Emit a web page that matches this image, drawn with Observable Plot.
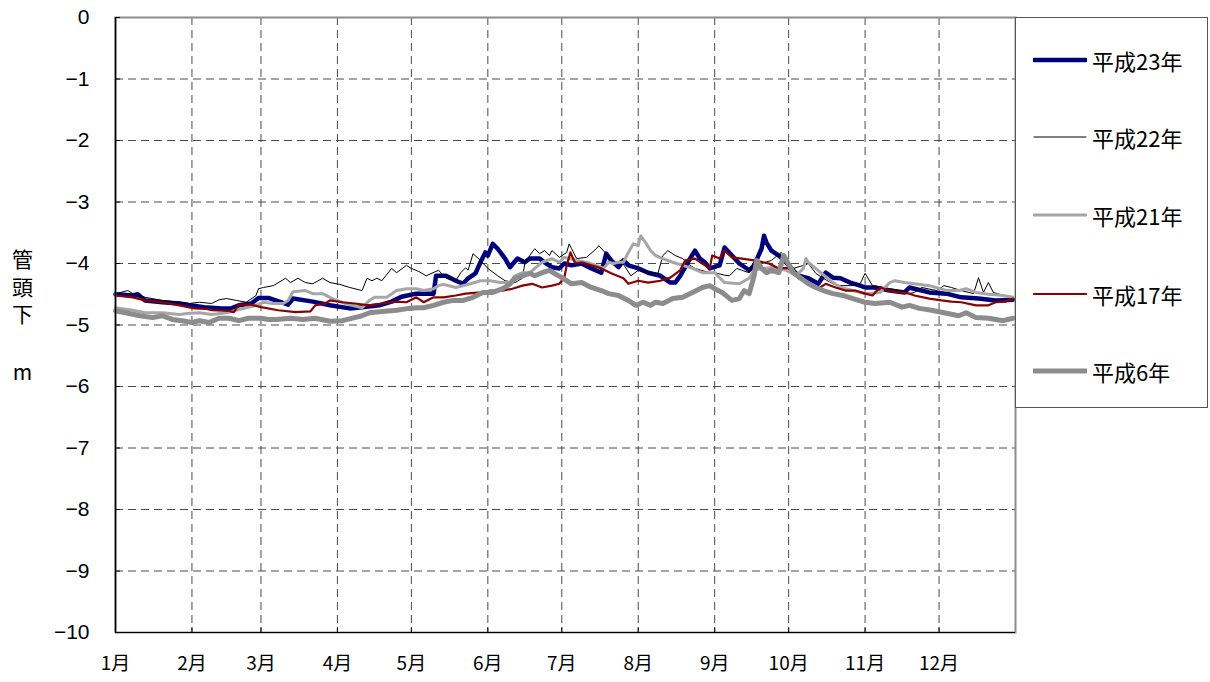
<!DOCTYPE html>
<html><head><meta charset="utf-8">
<script src="https://cdn.jsdelivr.net/npm/d3@7"></script>
<script src="https://cdn.jsdelivr.net/npm/@observablehq/plot@0.6"></script>
<style>
body{margin:0;background:#fff;}
#wrap{position:relative;width:1210px;height:682px;}
#legend{position:absolute;left:1015px;top:17px;width:193px;height:391px;border:1px solid #555;box-sizing:border-box;background:#fff;font-family:"Noto Sans CJK JP",sans-serif;font-size:22px;color:#000;}
.item{position:absolute;left:17px;height:30px;display:flex;align-items:center;}
.item svg{margin-right:5px;}
</style></head><body><div id="wrap"></div>
<script>
// Day-of-year (0 = Jan 1) and depth below pipe head (m)
const h23 = [[0,-4.50],[7,-4.52],[9,-4.50],[12,-4.60],[19,-4.63],[26,-4.65],[30,-4.68],[36,-4.71],[43,-4.73],[47,-4.73],[50,-4.68],[55,-4.65],[58,-4.56],[62,-4.56],[70,-4.67],[72,-4.57],[80,-4.62],[87,-4.68],[95,-4.73],[100,-4.71],[107,-4.68],[112,-4.62],[116,-4.54],[122,-4.49],[126,-4.49],[129,-4.49],[130,-4.20],[134,-4.20],[138,-4.28],[141,-4.33],[143,-4.24],[146,-4.16],[148,-3.98],[150,-3.82],[151,-3.87],[153,-3.68],[155,-3.76],[158,-3.92],[160,-4.06],[163,-3.92],[166,-3.98],[168,-3.92],[172,-3.92],[174,-3.98],[177,-4.06],[180,-4.08],[182,-4.00],[185,-4.03],[189,-4.00],[193,-4.08],[197,-4.15],[199,-3.84],[201,-3.95],[204,-4.06],[206,-3.95],[208,-4.03],[212,-4.08],[216,-4.15],[221,-4.20],[225,-4.31],[227,-4.31],[229,-4.20],[233,-3.92],[235,-3.79],[237,-3.92],[239,-3.98],[241,-4.08],[245,-4.03],[247,-3.74],[250,-3.87],[253,-4.00],[257,-4.11],[259,-4.03],[262,-3.76],[263,-3.55],[264,-3.66],[266,-3.79],[269,-3.87],[272,-3.98],[274,-4.08],[277,-4.20],[281,-4.24],[285,-4.33],[288,-4.15],[291,-4.23],[294,-4.24],[298,-4.31],[302,-4.36],[304,-4.39],[308,-4.39],[314,-4.44],[320,-4.47],[322,-4.39],[324,-4.41],[330,-4.47],[337,-4.49],[343,-4.55],[350,-4.57],[357,-4.60],[364,-4.59]];
const h22 = [[0,-4.50],[3,-4.46],[5,-4.44],[7,-4.49],[12,-4.55],[19,-4.60],[26,-4.63],[30,-4.65],[34,-4.63],[39,-4.65],[42,-4.59],[45,-4.57],[49,-4.60],[53,-4.63],[57,-4.52],[58,-4.41],[60,-4.39],[64,-4.36],[69,-4.24],[71,-4.31],[74,-4.24],[77,-4.31],[80,-4.33],[84,-4.24],[87,-4.31],[91,-4.34],[95,-4.39],[100,-4.44],[102,-4.24],[104,-4.28],[106,-4.24],[108,-4.28],[112,-4.08],[114,-4.15],[118,-4.03],[120,-4.08],[123,-4.13],[126,-4.20],[131,-4.11],[134,-4.24],[138,-4.28],[140,-4.15],[142,-4.07],[143,-4.11],[145,-3.84],[148,-3.95],[151,-4.08],[155,-4.20],[158,-4.28],[162,-4.31],[165,-4.24],[166,-4.00],[168,-3.87],[170,-3.76],[172,-3.84],[174,-3.79],[176,-3.87],[177,-3.79],[180,-3.90],[183,-3.82],[184,-3.68],[185,-3.76],[187,-3.92],[191,-3.90],[195,-3.76],[196,-3.71],[199,-3.84],[202,-4.00],[205,-3.95],[209,-4.20],[212,-4.11],[217,-4.15],[220,-4.16],[222,-3.87],[224,-3.79],[227,-3.87],[230,-3.92],[233,-4.03],[235,-4.08],[241,-4.15],[243,-4.15],[247,-4.19],[249,-4.20],[252,-4.08],[254,-4.11],[257,-4.15],[260,-3.92],[262,-4.00],[266,-3.95],[270,-3.82],[272,-3.92],[275,-4.08],[279,-4.03],[281,-4.00],[284,-4.16],[287,-4.24],[291,-4.33],[294,-4.36],[298,-4.36],[302,-4.33],[304,-4.16],[307,-4.36],[314,-4.41],[318,-4.44],[322,-4.49],[324,-4.47],[327,-4.39],[333,-4.44],[336,-4.36],[339,-4.39],[343,-4.44],[348,-4.49],[350,-4.23],[352,-4.47],[354,-4.31],[356,-4.47],[360,-4.52],[364,-4.55]];
const h21 = [[0,-4.72],[7,-4.76],[12,-4.80],[19,-4.80],[26,-4.83],[30,-4.81],[34,-4.80],[39,-4.83],[45,-4.80],[49,-4.76],[53,-4.72],[57,-4.68],[60,-4.63],[64,-4.65],[68,-4.65],[70,-4.60],[72,-4.46],[77,-4.44],[80,-4.49],[84,-4.49],[88,-4.57],[93,-4.65],[100,-4.72],[103,-4.60],[105,-4.55],[110,-4.55],[114,-4.44],[118,-4.41],[122,-4.41],[125,-4.44],[129,-4.41],[131,-4.36],[133,-4.34],[138,-4.39],[144,-4.33],[148,-4.28],[152,-4.28],[156,-4.31],[160,-4.31],[162,-4.20],[165,-4.15],[168,-4.15],[173,-3.98],[177,-3.92],[180,-3.98],[182,-3.90],[184,-3.92],[187,-3.95],[191,-3.98],[195,-4.03],[198,-4.08],[200,-3.98],[202,-4.00],[204,-3.98],[206,-3.98],[208,-3.82],[210,-3.68],[212,-3.71],[213,-3.55],[215,-3.66],[217,-3.79],[219,-3.87],[222,-3.92],[226,-3.98],[230,-4.03],[234,-4.08],[238,-4.15],[243,-4.15],[247,-4.31],[253,-4.33],[257,-4.24],[259,-4.11],[262,-4.08],[266,-4.07],[269,-4.08],[272,-4.11],[276,-4.20],[279,-4.08],[280,-3.92],[281,-3.98],[286,-4.15],[290,-4.28],[294,-4.39],[299,-4.44],[304,-4.49],[310,-4.47],[314,-4.31],[316,-4.28],[320,-4.31],[324,-4.33],[330,-4.36],[337,-4.44],[342,-4.44],[345,-4.41],[349,-4.47],[354,-4.50],[360,-4.52],[364,-4.55]];
const h17 = [[0,-4.52],[7,-4.55],[12,-4.60],[19,-4.63],[26,-4.68],[32,-4.73],[37,-4.74],[39,-4.76],[46,-4.77],[48,-4.79],[50,-4.67],[55,-4.67],[59,-4.71],[66,-4.76],[73,-4.79],[79,-4.78],[81,-4.68],[85,-4.65],[87,-4.60],[92,-4.63],[97,-4.65],[103,-4.68],[108,-4.65],[114,-4.62],[118,-4.63],[122,-4.55],[125,-4.63],[129,-4.55],[133,-4.55],[138,-4.52],[142,-4.49],[148,-4.47],[152,-4.44],[157,-4.44],[161,-4.41],[165,-4.36],[169,-4.33],[173,-4.39],[177,-4.36],[180,-4.33],[182,-4.23],[183,-4.03],[184.5,-3.82],[186.5,-4.00],[189,-3.98],[193,-4.03],[197,-4.08],[201,-4.16],[206,-4.24],[208,-4.33],[212,-4.28],[216,-4.31],[221,-4.28],[225,-4.23],[229,-4.11],[231,-3.95],[235,-3.92],[238,-4.00],[241,-4.08],[242,-3.87],[245,-3.92],[247,-3.79],[250,-3.90],[254,-3.92],[259,-3.95],[265,-4.00],[269,-4.08],[273,-4.07],[277,-4.24],[281,-4.33],[285,-4.41],[288,-4.33],[292,-4.39],[296,-4.44],[300,-4.44],[304,-4.49],[307,-4.52],[310,-4.39],[314,-4.44],[318,-4.47],[322,-4.49],[324,-4.52],[330,-4.57],[335,-4.60],[339,-4.62],[343,-4.63],[349,-4.68],[354,-4.68],[357,-4.63],[361,-4.62],[364,-4.57]];
const h6 = [[0,-4.77],[4,-4.80],[10,-4.85],[15,-4.88],[19,-4.85],[23,-4.91],[27,-4.93],[31,-4.96],[34,-4.93],[38,-4.96],[42,-4.89],[46,-4.89],[50,-4.93],[54,-4.89],[59,-4.89],[62,-4.91],[65,-4.91],[71,-4.89],[76,-4.91],[81,-4.89],[87,-4.94],[92,-4.93],[97,-4.88],[100,-4.85],[103,-4.80],[108,-4.78],[114,-4.76],[119,-4.73],[122,-4.72],[125,-4.72],[129,-4.68],[133,-4.63],[137,-4.60],[141,-4.60],[145,-4.55],[149,-4.47],[153,-4.47],[157,-4.41],[160,-4.33],[162,-4.24],[165,-4.20],[168,-4.16],[170,-4.20],[173,-4.15],[176,-4.11],[178,-4.16],[181,-4.23],[185,-4.33],[189,-4.31],[193,-4.39],[197,-4.44],[200,-4.49],[204,-4.52],[208,-4.60],[211,-4.68],[214,-4.63],[217,-4.68],[219,-4.63],[222,-4.65],[226,-4.57],[230,-4.55],[234,-4.47],[238,-4.39],[241,-4.36],[243,-4.41],[246,-4.47],[250,-4.60],[253,-4.57],[255,-4.44],[257,-4.49],[259,-4.20],[260,-3.95],[262,-4.08],[264,-4.15],[266,-4.11],[269,-4.15],[271,-3.87],[272.5,-3.98],[275,-4.15],[278,-4.24],[281,-4.33],[284,-4.39],[287,-4.44],[291,-4.49],[295,-4.52],[299,-4.57],[304,-4.63],[308,-4.65],[314,-4.63],[319,-4.71],[322,-4.68],[326,-4.73],[331,-4.76],[337,-4.81],[342,-4.85],[345,-4.80],[349,-4.88],[354,-4.89],[360,-4.93],[364,-4.89]];

const seriesNames = ["平成23年","平成22年","平成21年","平成17年","平成6年"];
const monthStarts = [0,31,59,90,120,151,181,212,243,273,304,334];
const monthLabels = ["1月","2月","3月","4月","5月","6月","7月","8月","9月","10月","11月","12月"];
const yTicks = [0,-1,-2,-3,-4,-5,-6,-7,-8,-9,-10];

const styles = [
  {stroke:"#00007f", strokeWidth:4.5},
  {stroke:"#000000", strokeWidth:1},
  {stroke:"#a6a6a6", strokeWidth:3},
  {stroke:"#8b0000", strokeWidth:2.2},
  {stroke:"#8c8c8c", strokeWidth:5}
];
const allSeries = [h23,h22,h21,h17,h6];

const lineMarks = allSeries.map((s,i)=>Plot.line(s,{x:d=>d[0],y:d=>d[1],stroke:styles[i].stroke,strokeWidth:styles[i].strokeWidth,strokeLinejoin:"round",strokeLinecap:"round"}));

const fmt = d => d === 0 ? "0" : "\u2212" + Math.abs(d);

const chart = Plot.plot({
  width:1210, height:682,
  marginLeft:115, marginRight:195, marginTop:17, marginBottom:50,
  x:{domain:[0,365], axis:null},
  y:{domain:[-10,0], axis:null},
  style:{background:"#fff"},
  marks:[
    Plot.ruleX(monthStarts.slice(1),{x:d=>d,stroke:"#4a4a4a",strokeDasharray:"8,5",strokeWidth:1}),
    Plot.ruleY(yTicks.slice(1,-1),{y:d=>d,stroke:"#4a4a4a",strokeDasharray:"8,5",strokeWidth:1}),
    ...lineMarks,
    Plot.frame({stroke:"#8c8c8c",strokeWidth:2}),
    Plot.ruleX([0],{stroke:"#000",strokeWidth:1.5}),
    Plot.ruleY([-10],{stroke:"#000",strokeWidth:1}),
    Plot.ruleY(yTicks,{y:d=>d,x1:0,x2:2,stroke:"#000"}),
    Plot.ruleX(monthStarts,{x:d=>d,y1:-10,y2:-9.92,stroke:"#000"}),
    Plot.text(yTicks,{y:d=>d,text:fmt,frameAnchor:"left",dx:-26,textAnchor:"end",fontSize:21,fontFamily:"Liberation Sans, Arial, sans-serif",fill:"#000"}),
    Plot.text(monthStarts,{x:d=>d,text:(d,i)=>monthLabels[i],frameAnchor:"bottom",dy:31,lineAnchor:"middle",fontSize:19,fontFamily:"Noto Sans CJK JP, sans-serif",fill:"#000"}),
    Plot.text(["管\n頭\n下"],{text:d=>d,frameAnchor:"left",dx:-93,dy:-39,lineAnchor:"middle",lineHeight:1.3,textAnchor:"middle",fontSize:21,fontFamily:"Noto Sans CJK JP, sans-serif",fill:"#000"}),
    Plot.text(["m"],{text:d=>d,frameAnchor:"left",dx:-93,dy:48,lineAnchor:"middle",textAnchor:"middle",fontSize:21,fontFamily:"Noto Sans CJK JP, sans-serif",fill:"#000"})
  ]
});

const wrap = document.getElementById("wrap");
wrap.appendChild(chart);

const legend = document.createElement("div");
legend.id = "legend";
const rowTops = [42,119,197,276,353];
seriesNames.forEach((name,i)=>{
  const item = document.createElement("div");
  item.className = "item";
  item.style.top = (rowTops[i]-15) + "px";
  const sw = styles[i].strokeWidth;
  item.innerHTML = `<svg width="54" height="10"><line x1="1" y1="5" x2="53" y2="5" stroke="${styles[i].stroke}" stroke-width="${sw}" stroke-linecap="round"/></svg><span>${name}</span>`;
  legend.appendChild(item);
});
wrap.appendChild(legend);
</script></body></html>
